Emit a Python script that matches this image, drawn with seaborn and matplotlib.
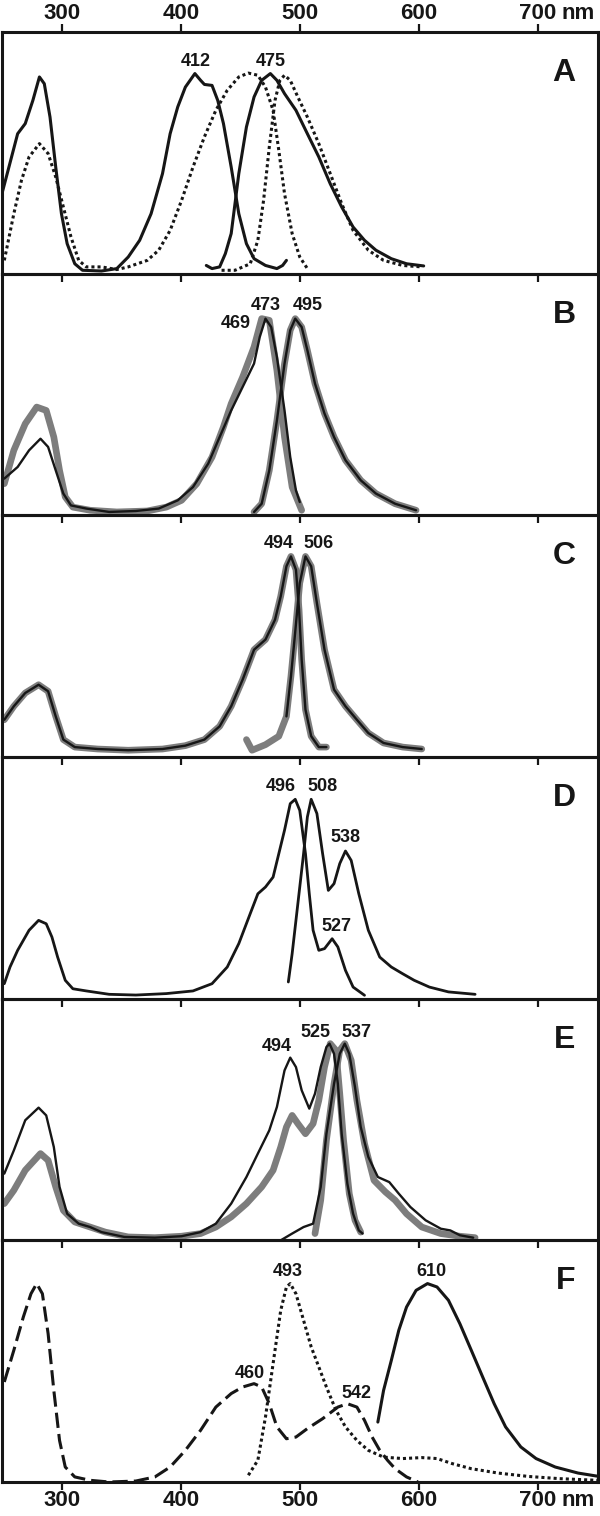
import matplotlib
matplotlib.use("Agg")
import matplotlib.pyplot as plt
import seaborn as sns

# wavelength (nm) and relative intensity (% of panel height)

# panel A
a_abs_nm = [250, 262.8, 269.2, 275.6, 281.1, 285.2, 290.0, 294.8, 299.6, 304.4, 310.8, 317.3, 333.3,
            346.1, 355.7, 365.3, 374.9, 384.5, 390.9, 397.3, 403.7, 411.7, 416.5, 419.7, 426.1, 430.9,
            435.7, 442.2, 448.6, 455.0, 461.4, 471.0, 480.6, 485.4, 488.6]
a_abs_i = [33.8, 57.9, 62.1, 71.7, 81.4, 78.6, 64.8, 44.1, 24.8, 12.4, 4.1, 1.4, 1.1,
           2.1, 6.9, 13.8, 24.8, 41.4, 57.9, 69.0, 77.2, 82.8, 80.0, 78.3, 77.9, 71.7,
           62.1, 44.1, 24.8, 12.4, 6.2, 3.4, 2.1, 3.4, 5.5]
a_em_nm = [421.3, 426.1, 432.5, 437.3, 442.2, 448.6, 455.0, 461.4, 467.8, 475.1, 480.6, 487.0,
           496.6, 506.2, 515.8, 525.4, 535.0, 544.6, 554.2, 563.8, 576.7, 589.5, 603.9]
a_em_i = [3.4, 2.1, 2.8, 8.3, 16.6, 41.4, 60.7, 73.1, 80.0, 82.8, 80.0, 74.5,
          67.6, 57.9, 48.3, 37.2, 27.6, 19.3, 13.8, 9.7, 6.2, 4.1, 3.2]
a_abs2_nm = [251.6, 259.6, 266.0, 272.4, 281.1, 288.4, 294.8, 301.2, 307.6, 314.1, 320.5, 333.3,
             346.1, 355.7, 371.7, 381.3, 390.9, 400.5, 410.1, 419.7, 429.3, 438.9, 448.6, 456.6,
             464.6, 471.0, 477.4, 482.2, 487.0, 493.4, 499.8, 506.2]
a_abs2_i = [5.5, 24.8, 38.6, 48.3, 53.8, 49.7, 40.0, 27.6, 15.2, 5.5, 2.8, 2.8,
            1.7, 2.8, 5.5, 9.7, 17.9, 30.3, 44.1, 56.6, 67.6, 75.9, 81.4, 83.0,
            82.1, 77.2, 67.6, 51.0, 33.1, 16.6, 6.9, 2.1]
a_em2_nm = [434.1, 445.4, 458.2, 464.6, 469.4, 474.2, 479.0, 483.1, 487.0, 491.8, 498.2, 506.2,
            515.8, 525.4, 535.0, 544.6, 557.4, 570.2, 586.3, 602.3]
a_em2_i = [1.4, 1.4, 4.1, 13.8, 30.3, 52.4, 71.7, 80.0, 82.1, 80.0, 73.1, 64.8,
           53.8, 41.4, 29.0, 17.9, 9.7, 5.5, 3.4, 2.8]

# panel B
b_abs_gray_nm = [251.6, 259.6, 269.2, 278.8, 286.8, 293.2, 298.0, 302.8, 309.2, 323.7, 346.1, 371.7,
                 387.7, 400.5, 413.3, 426.1, 435.7, 442.2, 451.8, 461.4, 467.8, 474.2, 480.6, 487.0,
                 493.4, 501.4]
b_abs_gray_i = [13.1, 26.9, 37.9, 44.8, 43.4, 32.4, 18.6, 7.6, 3.4, 2.1, 1.4, 1.8,
                3.4, 6.2, 13.1, 24.1, 36.6, 46.2, 57.2, 69.7, 81.4, 80.7, 60.0, 32.4,
                11.7, 2.1]
b_abs_nm = [251.6, 262.8, 272.4, 282.0, 288.4, 294.8, 301.2, 307.6, 320.5, 339.7, 362.1, 381.3,
            397.3, 410.1, 422.9, 432.5, 442.2, 451.8, 461.4, 466.2, 471.0, 475.8, 480.6, 487.0,
            491.8, 496.6, 499.8]
b_abs_i = [15.2, 20.0, 26.9, 31.7, 28.3, 18.6, 9.0, 4.1, 2.8, 1.4, 1.8, 2.8,
           6.2, 11.7, 21.4, 32.4, 43.4, 53.1, 62.8, 73.8, 81.4, 77.9, 65.5, 43.4,
           24.1, 10.3, 5.5]
b_em_nm = [461.4, 467.8, 474.2, 480.6, 487.0, 491.8, 496.0, 501.4, 506.2, 512.6, 520.6, 528.6,
           538.2, 551.0, 563.8, 579.9, 597.5]
b_em_i = [1.4, 4.8, 18.6, 39.3, 62.8, 76.6, 81.4, 77.9, 68.3, 54.5, 42.1, 32.4,
          22.8, 14.5, 9.0, 4.8, 2.1]

# panel C
c_abs_nm = [251.6, 259.6, 269.2, 280.4, 288.4, 294.8, 301.2, 310.8, 330.1, 355.7, 384.5, 403.7,
            419.7, 432.5, 442.2, 451.8, 461.4, 471.0, 479.0, 483.8, 488.6, 492.4, 496.6, 499.2,
            501.4, 504.6, 509.4, 515.8, 522.2]
c_abs_i = [15.4, 21.0, 26.5, 29.9, 27.2, 16.8, 7.2, 4.1, 3.3, 2.8, 3.3, 4.7,
           7.2, 12.7, 21.0, 32.0, 44.4, 48.6, 56.8, 66.5, 78.9, 83.0, 77.5, 61.0,
           40.3, 19.6, 8.6, 4.1, 4.1]
c_em_nm = [455.0, 459.7, 471.0, 482.2, 488.6, 492.4, 495.9, 499.8, 504.6, 509.4, 514.2, 520.6,
           528.6, 538.2, 547.8, 557.4, 570.2, 586.3, 602.3]
c_em_i = [7.2, 2.8, 5.1, 8.6, 16.8, 33.4, 51.3, 72.0, 83.0, 78.9, 63.7, 44.4,
          27.9, 21.0, 15.4, 9.9, 5.8, 4.1, 3.3]

# panel D
d_abs_nm = [251.6, 256.4, 262.8, 272.4, 280.4, 286.8, 291.6, 296.4, 302.8, 309.2, 320.5, 339.7,
            362.1, 387.7, 410.1, 426.1, 438.9, 448.6, 458.2, 464.6, 471.0, 477.4, 482.2, 487.0,
            491.8, 496.0, 499.8, 504.6, 507.8, 511.0, 515.8, 520.6, 527.0, 531.8, 538.2, 544.6,
            554.2]
d_abs_i = [6.2, 13.1, 20.0, 28.3, 32.4, 31.0, 25.5, 17.2, 7.6, 4.1, 3.2, 1.8,
           1.5, 2.1, 3.2, 6.2, 13.1, 22.8, 35.2, 43.4, 46.2, 50.3, 60.0, 69.7,
           80.7, 82.5, 77.9, 60.0, 43.4, 28.3, 20.0, 20.7, 24.8, 21.4, 11.7, 4.8,
           1.4]
d_em_nm = [490.2, 493.4, 498.2, 503.0, 506.2, 509.4, 514.2, 519.0, 523.8, 528.6, 533.4, 538.2,
           543.0, 549.4, 557.4, 567.0, 576.7, 586.3, 595.9, 608.7, 624.7, 647.1]
d_em_i = [6.9, 18.6, 39.3, 60.0, 75.2, 82.5, 76.6, 60.0, 44.8, 47.6, 55.9, 61.1,
          57.2, 43.4, 28.3, 17.2, 13.1, 10.3, 7.6, 4.8, 2.8, 1.8]

# panel E
e_abs_nm = [251.6, 259.6, 269.2, 280.4, 286.8, 293.2, 298.0, 304.4, 314.1, 323.7, 333.3, 352.5,
            378.1, 400.5, 416.5, 429.3, 442.2, 455.0, 464.6, 474.2, 480.6, 487.0, 491.8, 496.6,
            501.4, 507.8, 512.6, 517.4, 522.2, 524.8, 528.6, 531.8, 535.0, 539.8, 544.6, 549.4,
            552.6]
e_abs_i = [27.6, 37.2, 49.7, 54.9, 51.7, 38.6, 22.1, 11.0, 6.9, 5.5, 3.4, 1.4,
           1.1, 1.7, 3.4, 6.9, 15.2, 26.2, 35.9, 45.5, 55.2, 70.3, 75.6, 71.7,
           62.1, 54.5, 60.7, 71.7, 80.0, 81.4, 77.2, 64.8, 44.1, 23.4, 11.0, 4.1,
           2.8]
e_abs_gray_nm = [251.6, 259.6, 269.2, 282.0, 288.4, 294.8, 301.2, 310.8, 323.7, 336.5, 355.7, 378.1,
                 400.5, 416.5, 429.3, 442.2, 455.0, 467.8, 477.4, 483.8, 488.6, 493.4, 498.2, 504.6,
                 511.0, 515.8, 520.6, 525.4, 530.2, 533.4, 536.6, 541.4, 546.2, 551.0]
e_abs_gray_i = [15.2, 20.7, 29.0, 35.9, 33.1, 22.1, 12.4, 7.6, 5.5, 3.4, 1.4, 1.1,
                1.7, 2.8, 5.5, 9.7, 15.2, 22.1, 29.0, 38.6, 46.9, 51.7, 48.3, 44.1,
                48.3, 57.9, 71.7, 81.4, 78.6, 60.7, 41.4, 19.3, 8.3, 3.4]
e_em_nm = [483.8, 493.4, 503.0, 511.0, 517.4, 522.2, 528.6, 533.4, 537.6, 541.4, 546.2, 551.0,
           557.4, 565.4, 575.0, 583.0, 592.7, 605.5, 618.3, 626.3, 634.3, 645.5]
e_em_i = [0.0, 2.8, 5.5, 6.9, 22.1, 44.1, 64.8, 77.2, 81.4, 77.2, 63.4, 46.9,
          34.5, 26.2, 24.1, 19.3, 13.8, 8.3, 4.8, 4.1, 2.1, 1.1]
e_em_gray_nm = [512.6, 517.4, 522.2, 528.6, 533.4, 537.6, 543.0, 547.8, 554.2, 562.2, 571.8, 579.9,
                589.5, 602.3, 618.3, 634.3, 647.1]
e_em_gray_i = [2.8, 16.6, 41.4, 64.8, 78.6, 81.4, 74.5, 57.9, 40.0, 24.8, 20.0, 16.6,
               11.0, 5.5, 2.8, 1.7, 1.1]

# panel F
f_dash_nm = [251.6, 259.6, 267.6, 274.0, 278.8, 283.6, 288.4, 293.2, 298.0, 302.8, 310.8, 323.7,
             339.7, 362.1, 378.1, 390.9, 403.7, 416.5, 429.3, 442.2, 451.8, 461.4, 467.8, 474.2,
             480.6, 488.6, 496.6, 506.2, 519.0, 531.8, 539.8, 547.8, 554.2, 560.6, 567.0, 573.5,
             579.9, 589.5, 599.1]
f_dash_i = [41.4, 54.5, 68.3, 77.9, 82.1, 77.9, 61.4, 37.9, 17.2, 6.2, 2.1, 0.7,
            0.0, 0.4, 2.1, 6.2, 13.1, 21.4, 31.0, 36.6, 39.3, 40.7, 39.3, 32.4,
            22.8, 17.9, 18.6, 22.1, 26.2, 31.0, 32.4, 31.0, 25.5, 18.6, 13.1, 9.0,
            5.5, 2.1, 0.0]
f_dot_nm = [456.6, 464.6, 471.0, 477.4, 483.8, 488.6, 491.8, 496.6, 503.0, 509.4, 515.8, 522.2,
            530.2, 538.2, 547.8, 557.4, 570.2, 586.3, 602.3, 615.1, 627.9, 643.9, 666.3, 691.9,
            717.5, 749.6]
f_dot_i = [2.8, 9.0, 26.9, 49.0, 71.0, 80.7, 82.1, 77.9, 66.9, 55.9, 47.6, 39.3,
           29.7, 22.8, 17.2, 13.1, 10.3, 9.7, 10.1, 9.7, 7.6, 5.5, 3.7, 2.3,
           1.4, 0.7]
f_em_nm = [565.4, 570.2, 576.7, 583.0, 589.5, 597.5, 607.1, 615.1, 624.7, 634.3, 643.9, 653.5,
           663.1, 672.7, 685.5, 698.3, 714.4, 733.6, 751.2]
f_em_i = [24.8, 37.9, 50.3, 62.8, 72.4, 79.3, 82.1, 80.7, 75.2, 65.5, 54.5, 43.4,
          32.4, 22.8, 14.5, 9.7, 6.2, 3.7, 2.3]

# peak labels (text, wavelength, height)
a_labels = ["412", "475"]
a_lab_x = [412.7, 475.8]
a_lab_y = [87.6, 87.6]
b_labels = ["473", "495", "469"]
b_lab_x = [471.0, 506.2, 446.0]
b_lab_y = [86.9, 86.9, 79.3]
c_labels = ["494", "506"]
c_lab_x = [482.2, 515.8]
c_lab_y = [88.3, 88.3]
d_labels = ["496", "508", "538", "527"]
d_lab_x = [483.8, 519.0, 538.2, 530.2]
d_lab_y = [87.6, 87.6, 66.6, 29.7]
e_labels = ["494", "525", "537"]
e_lab_x = [480.6, 513.2, 547.8]
e_lab_y = [80.3, 86.2, 86.2]
f_labels = ["493", "610", "460", "542"]
f_lab_x = [489.5, 610.3, 458.2, 547.8]
f_lab_y = [86.9, 86.9, 45.1, 36.8]

panel_letters = ["A", "B", "C", "D", "E", "F"]
tick_nm = [300, 400, 500, 600, 700]

BLACK = "#161616"
GRAY = "#7d7d7d"
joins = dict(solid_joinstyle="round", solid_capstyle="round")
solid = dict(color=BLACK, lw=2.2, **joins)
thin = dict(color=BLACK, lw=1.7, **joins)
medium = dict(color=BLACK, lw=2.0, **joins)
thick_gray = dict(color=GRAY, lw=4.8, **joins)
dotted = dict(color=BLACK, lw=2.2, linestyle=(0, (1, 1)))
dashed = dict(color=BLACK, lw=2.2, linestyle=(0, (5, 2)))

panels = [
    ([(a_abs_nm, a_abs_i, solid), (a_em_nm, a_em_i, solid),
      (a_abs2_nm, a_abs2_i, dotted), (a_em2_nm, a_em2_i, dotted)],
     (a_labels, a_lab_x, a_lab_y)),
    ([(b_abs_gray_nm, b_abs_gray_i, thick_gray), (b_em_nm, b_em_i, thick_gray),
      (b_abs_nm, b_abs_i, thin), (b_em_nm, b_em_i, thin)],
     (b_labels, b_lab_x, b_lab_y)),
    ([(c_abs_nm, c_abs_i, thick_gray), (c_em_nm, c_em_i, thick_gray),
      (c_abs_nm, c_abs_i, thin), (c_em_nm[4:], c_em_i[4:], thin)],
     (c_labels, c_lab_x, c_lab_y)),
    ([(d_abs_nm, d_abs_i, medium), (d_em_nm, d_em_i, medium)],
     (d_labels, d_lab_x, d_lab_y)),
    ([(e_abs_gray_nm, e_abs_gray_i, thick_gray), (e_em_gray_nm, e_em_gray_i, thick_gray),
      (e_abs_nm, e_abs_i, thin), (e_em_nm, e_em_i, thin)],
     (e_labels, e_lab_x, e_lab_y)),
    ([(f_dash_nm, f_dash_i, dashed), (f_dot_nm, f_dot_i, dotted), (f_em_nm, f_em_i, solid)],
     (f_labels, f_lab_x, f_lab_y)),
]

sns.set_style("white")
plt.rcParams['font.family'] = ['Liberation Sans', 'DejaVu Sans']
plt.rcParams['font.weight'] = 'bold'

fig, axes = plt.subplots(6, 1, figsize=(6, 15.16), dpi=100)
fig.subplots_adjust(left=0.004, right=0.996, top=1 - 32 / 1516, bottom=1 - 1482 / 1516, hspace=0)
fig.patch.set_facecolor("white")

TICK_LEN = 6
TICK_PAD = 0
for k, (ax, (curves, labs)) in enumerate(zip(axes, panels)):
    ax.set_facecolor("none")
    for nm, inten, style in curves:
        sns.lineplot(x=nm, y=inten, ax=ax, estimator=None, **style)
    for txt, lx, ly in zip(*labs):
        ax.text(lx, ly, txt, ha="center", va="center", fontsize=13, fontweight="bold", color=BLACK)
    ax.text(0.963, 0.83, panel_letters[k], transform=ax.transAxes, ha="right", va="center",
            fontsize=23, fontweight="bold", color=BLACK)

    ax.set_xlim(250, 750)
    ax.set_ylim(0, 100)
    ax.set_yticks([])
    ax.set_xticks(tick_nm)
    ax.set_xticklabels([str(t) for t in tick_nm])
    ax.set_xlabel("")
    ax.set_ylabel("")
    for sp in ax.spines.values():
        sp.set_visible(True)
        sp.set_linewidth(2.2)
        sp.set_color(BLACK)
    ax.tick_params(axis="x", direction="out", length=TICK_LEN, width=1.6, color=BLACK,
                   labelsize=16, pad=TICK_PAD, top=(k == 0), labeltop=(k == 0),
                   bottom=True, labelbottom=(k == 5), labelcolor=BLACK)

# "nm" unit after the 700 tick label, top and bottom
top_tr = axes[0].get_xaxis_text2_transform(TICK_PAD + TICK_LEN)[0]
bot_tr = axes[5].get_xaxis_text1_transform(TICK_PAD + TICK_LEN)[0]
axes[0].text(720, 1, "nm", transform=top_tr, ha="left", va="bottom", fontsize=16,
             fontweight="bold", color=BLACK)
axes[5].text(720, 0, "nm", transform=bot_tr, ha="left", va="top", fontsize=16,
             fontweight="bold", color=BLACK)

fig.savefig("out.png", dpi=100, facecolor="white")
